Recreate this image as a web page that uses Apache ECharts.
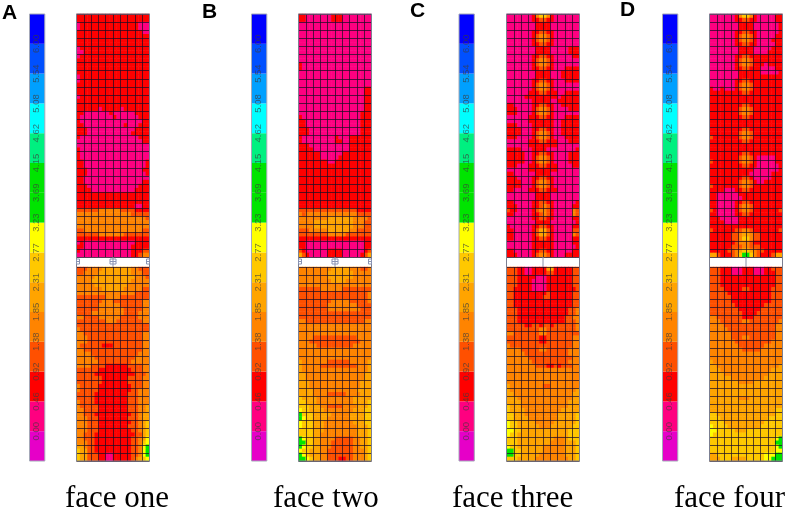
<!DOCTYPE html>
<html>
<head>
<meta charset="utf-8">
<title>face contours</title>
<style>
html, body { margin: 0; padding: 0; background: #fff; }
#chart { width: 789px; height: 509px; }
</style>
</head>
<body>
<div id="chart"></div>
<script src="https://cdn.jsdelivr.net/npm/echarts@6/dist/echarts.min.js"></script>
<script>
// colour bands, bottom to top of the scale
const bandColors = ['#e600c8', '#ff0080', '#ff0000', '#ff5000', '#ff8400', '#ffa400', '#ffc800', '#ffff00',
    '#00e400', '#00e400', '#00f080', '#00ffff', '#00a0ff', '#0050ff', '#0000ff'];
const tickLabels = ['0.00', '0.46', '0.92', '1.38', '1.85', '2.31', '2.77', '3.23', '3.69', '4.15', '4.62', '5.08', '5.54', '6.00'];
const faceNames = ['face one', 'face two', 'face three', 'face four'];
const panelLetters = ['A', 'B', 'C', 'D'];

// band index, half a mesh cell per character
const faceOneUpper = [
'22222222222222222222','22222222222222222222','12222222222222222111','12222222222222222111','22222222222222222211',
'22222222222222222222','22222222222222222222','22222222222222222222','12222222222222222222','11222222222222222222',
'12222222222222222222','22222222222222222222','22222222222222222222','22222222222222222222','22222222222222222222',
'12222222222222222222','12222222222222222222','22222222222222222222','22222222222222222222','22222222222222222222',
'12222222222222222222','22222222222222222222','22222222222222222222','22222212222212222222','22111111121111112222',
'21111111112111111222','21111111111111111122','22111111111112111222','22211111111111112222','22211111111111122222',
'21111111111111111222','11111111111111111122','11111111111111111111','21111111111111111111','21111111111111111111',
'21111111111111111111','22111111111111111112','22111111111111111112','22211111111111111122','22211111111111111112',
'22111111111111111111','22111111111111111122','22211111111111111222','22221111111111112222','22222222222222222222',
'22222222222222222222','22222222222222222222','22222222222222221122','33333344444433332222','44444444444444433333',
'44444444444444444443','44444444444444444444','44444444444444444444','33444444444444444433','33333344444443333333',
'22222222222222222222','12111111111111112222','22111111111111122222','21111111111111122233','11111111111111122344'];
const faceOneLower = [
'33344445555555544333','33444455555555544433','44444555555555554443','44445555555555544444','44444555555555444444',
'44444445555554444433','44444444444444443333','33333333444433333333','33333334443333333344','33333344444433333344',
'33333344444443333344','33334444444443333444','44333344444433333444','33333333444333333344','33333333333333333333',
'43333333333333333333','44333333333333333344','44433333333333333344','44433333333333333344','43333332223333333344',
'44333333333333333344','44443333333333333444','44444333333333334444','44444433333333344444','44443333222222333344',
'33333322222222233344','33333222222222223334','33333332222222333344','33333332222222333344','43333322222222233344',
'43333322222222233444','33333222222222333444','33333222222222333444','43333222222222333444','43333322222222333445',
'44333322222222333445','44333222222222233455','44433322222222333455','44433322222222233456','44433322222222333456',
'44433322222222233456','44333222222222223356','44333222222222233457','44433222222222233467','55433222222222233478',
'65533222222222233478','65533322112222233478','65533322112222234567'];
const faceTwoUpper = [
'22111111122211111111','22111111122211111111','11111111111111111111','11111111111111111111','11111111111111111111',
'11111111111111111111','11111111111111111111','11111111111111111111','11111111111111111111','11111111111111111111',
'11111111111111111111','11111111111111111111','21111111111111111111','21111111111111111111','11111111111111111111',
'11111111111111111111','11111111111111111111','11111111111111111111','11111111111111111122','11111111111111111122',
'11111111111111111122','11111111111111111122','11111111111111111122','11111111111111111122','11111111111111111222',
'21111111111111111222','22111111111111111222','22111111111111111222','22211111111111111222','22211111111111111222',
'21111111112111222222','21111111112211222222','22211111111111222222','22221111111111222222','22222211111122222222',
'22222211111222222222','22222222112222222222','22222222222222222222','22222222222222222222','22222222222222222222',
'22222222222222222222','22222222222222222222','22222222222222222222','22222222222222222222','22222222222222222222',
'22222222222222222222','22222222222222222222','22222222222222222222','33333333333333332222','43444444444444443333',
'44444444555555544443','44445555555555544433','44445555555555544433','33344444555555443333','33333333444443333333',
'22222222222222222222','22111111111111111122','22111111111111111122','32111111222211111123','53211111222211111235'];
const faceTwoLower = [
'44444444455555444334','44444444555555544444','44444444555555544444','44444444455554444444','44444444444444444444',
'33333344444433333333','33333333333333333334','33333333333333333334','33333333344444333334','33333333444444443333',
'33333333444444444333','33333333333333333333','33333333333333333333','44333333333333333344','44444444444444444444',
'44444444444444444444','44444444444444444444','44443333333333334444','44433333333333333444','44444333333333344444',
'44444444444444444444','44444444444444444444','44444444444444444444','54444444333333444445','54444433333333334445',
'54444444444444444445','55444444444444444455','55444444444444444455','55544444444444444555','55544444444444444555',
'55554444444444445555','55554444333334444555','65555444444444455555','66555444444444455556','66655544333344445556',
'76655554444444455566','86665555544444555566','87665555444444555566','76665554444444455566','76665554444444445556',
'66665554444444445556','66665544444444445556','87665544443333344556','88665544433333344556','87665544433333344556',
'76655544333333344456','87655544333333344456','88765544333223344456'];
const faceThreeUpper = [
'11111112466421111111','11111112233221111111','11111111222211111111','11111111222211111111','11111112233221111111',
'11111112344321111111','11111112344321111111','11111112233221111111','11111111222211111222','11111111222211111222',
'11111112233221111122','11111112344321111111','11111112344321111111','11111112233221112222','11111111222211122222',
'11111111222211122222','11111112233221112222','11111112344321111111','11111112344321111111','11111122233222112222',
'11111222222222122222','11111112222211222222','22111112233221122222','22211112344321111222','22211112344321111111',
'11111122233221112222','11111122222221122222','22211112222221122222','22221112233221122222','22221112344321122222',
'22211112344321112222','11111122233222111222','11111122222222111111','22221112222111111112','22222112233221111222',
'22222112344321111222','22222112344321111222','22211122233222111122','11111122222222111111','22111111222211111111',
'22211112233221111111','22221112344321111111','22221112344321111111','22111122233222111111','11111111222211111111',
'11111111222211111111','22111112233221111112','22211112234321111122','32211112344321111143','22111112234321111143',
'11111112233221111122','11111111222211111112','21111112233221111122','22111112355321111133','22111112355321111143',
'22111112233221111122','11111112222221111122','11111112222221111112','22111112233221111122','22211112344321112222'];
const faceThreeLower = [
'33322112222552222233','33322112222332222233','33322222111222222233','33322221111222222233','33322221111222222233',
'33222221111222222223','33222222222322222233','33222222223322222233','33222222222222222233','33222222222222222233',
'33322222222222222334','33322222222222222334','33322222222222223344','33322222222222223334','33333223323323333334',
'33333333344333333334','44333333344333333333','33333333322333333344','33333333322333333344','43333333333333333344',
'44443333344333333444','44444333333333333444','44444433333333333344','44444443333333333444','44444444333223233344',
'44444444444444444444','44444444444444444444','44444444444444444444','44444444444444444444','54444444443344444444',
'54444444444444444445','55444444444444444455','55544444444444444455','55554444444444444555','65554444444444444555',
'65555444444444455555','66555444444444555556','66555544444444555556','76655555444445555556','76655555544455555566',
'77665555555555555666','76655555555555555666','66655555555554445666','66655555555544445556','76655555554444445556',
'88665555554444445556','88665555544444445556','66655555444444444556'];
const faceFourUpper = [
'11111112466421111122','11111112233221111122','11111111222211111112','11111111222211111112','11111112233221111112',
'11111112344321111122','11111112344321111222','11111112233221111122','11111111222211111222','11111111222211112222',
'11111112233222222222','11111112344322222222','11111112344322212222','11111112233222111122','11111111222222111112',
'11111111222222222222','11111112233222222222','11111112344322222222','21121112344322222222','22222222233222222222',
'22222222222222222222','22222222222222222222','22222222233222222222','22222222344322222222','22222222344322222222',
'22222222233222222222','22222222222222222222','22222222222222222222','22222222233222222222','22222222344322222222',
'32222222344322222222','22222222233222222222','22222222222222222222','22222222222222222222','22222222233222222222',
'22222222344321111122','32222222344321111122','22222222233221111112','22222222222211111112','22222222222111111222',
'22222222233211111222','22222222344321122222','32222222344322222222','22221112233222222222','22111111222222222222',
'22111111122222222222','22111112233222222222','22111112344322222222','32111112344322222223','22111112233222222222',
'22211111222222222222','22221111222222222222','22222222222222222222','32222223344322222223','22222233455433222222',
'22222233466433222222','22222223444322222222','22222233344333222222','22222334566543322222','55322234688643222355'];
const faceFourLower = [
'33322211122211122333','33322211122211122233','33322222222222222233','33322222222222222233','33322222222222222233',
'33332222233222222333','33333222222222222333','33333322222222222333','33333322222222222333','33333332222222233333',
'33333333222222333333','33333333322223333333','44333333322233333333','44433333344333333334','44443333333333333344',
'44444333333333333344','44444433333333333344','44444433344333333344','44444443333333333444','44444444333333344444',
'44444444433333444444','44444444444444444444','44444444444444444444','54444444444444444444','55444444444444444445',
'55544444444444444555','55554444444444445555','55555544444444455555','55555555444455555555','55555555555555555555',
'55555555555555555555','55555555555555555555','55555555444555555555','55555555555555555555','55555555555555555555',
'55555555555555555566','66555555555555555566','66655555555555556666','66665555555555566666','76666555555555666666',
'77666665556666666666','76666666666666666666','66666666666666666678','66666666666666666688','66666666666666666678',
'66666666666666666677','55666666666666677788','55566655556666677888'];

const faceRows = [[faceOneUpper, faceOneLower], [faceTwoUpper, faceTwoLower], [faceThreeUpper, faceThreeLower], [faceFourUpper, faceFourLower]];

// page layout
const scaleLeft = [29.5, 251.5, 459, 662.5];
const meshLeft = [76.5, 298.5, 506.5, 709.5];
const letterPos = [[2, 3], [202, 2], [410, 1], [620, 0]];
const captionLeft = [65, 273, 452, 674];
const meshWidth = 73, scaleWidth = 15.3;
const top1 = 14, height1 = 243, top2 = 267, height2 = 194;

const grids = [], xAxes = [], yAxes = [], series = [], titles = [], heatSeries = [], frames = [];

function addCartesian(box) {
    grids.push(Object.assign({ show: false }, box));
    return grids.length - 1;
}

function addMesh(rows, left, top, height) {
    const g = addCartesian({ left: left, top: top, width: meshWidth, height: height });
    const cols = rows[0].length;
    const data = [];
    rows.forEach((row, r) => {
        for (let c = 0; c < cols; c++) data.push([c, r, Number(row[c])]);
    });
    // category axes carry the contour cells
    xAxes.push({ gridIndex: g, type: 'category', show: false, data: Array.from({ length: cols }, (_, i) => i) });
    const xCat = xAxes.length - 1;
    yAxes.push({ gridIndex: g, type: 'category', show: false, inverse: true, data: rows.map((_, i) => i) });
    const yCat = yAxes.length - 1;
    series.push({ type: 'heatmap', xAxisIndex: xCat, yAxisIndex: yCat, data: data, silent: true, progressive: 0, z: 2 });
    heatSeries.push(series.length - 1);
    // value axes on top of the cells draw the mesh lines
    const meshLine = { show: true, lineStyle: { color: '#1c0c24', width: 1, opacity: 0.72 } };
    xAxes.push({ gridIndex: g, type: 'value', position: 'top', min: 0, max: cols / 2, interval: 1, z: 5,
        axisLine: { show: false }, axisTick: { show: false }, axisLabel: { show: false }, splitLine: meshLine });
    yAxes.push({ gridIndex: g, type: 'value', position: 'right', min: 0, max: rows.length / 2, interval: 1, z: 5,
        axisLine: { show: false }, axisTick: { show: false }, axisLabel: { show: false }, splitLine: meshLine });
}

function addScale(left) {
    const g = addCartesian({ left: left, top: top1, width: scaleWidth, height: top2 + height2 - top1 });
    xAxes.push({ gridIndex: g, type: 'category', show: false, data: ['scale'] });
    yAxes.push({
        gridIndex: g, type: 'value', min: 0, max: bandColors.length, interval: 1, z: 5,
        axisLine: { show: false }, axisTick: { show: false }, splitLine: { show: false },
        axisLabel: {
            inside: true, rotate: 90, margin: 2, fontSize: 9.5, color: 'rgba(60,60,60,0.7)', fontFamily: 'Liberation Sans',
            showMinLabel: false, showMaxLabel: false,
            formatter: v => tickLabels[v - 1] || ''
        }
    });
    const xi = xAxes.length - 1, yi = yAxes.length - 1;
    bandColors.forEach((color, i) => {
        series.push({ type: 'bar', xAxisIndex: xi, yAxisIndex: yi, stack: 'scale' + g, barWidth: '100%', silent: true,
            data: [1], itemStyle: { color: color } });
    });
}

faceNames.forEach((name, i) => {
    addScale(scaleLeft[i]);
    addMesh(faceRows[i][0], meshLeft[i], top1, height1);
    addMesh(faceRows[i][1], meshLeft[i], top2, height2);
    titles.push({ text: panelLetters[i], left: letterPos[i][0], top: letterPos[i][1], padding: 0,
        textStyle: { fontFamily: 'Liberation Sans', fontWeight: 'bold', fontSize: 21, color: '#000' } });
    titles.push({ text: name, left: captionLeft[i], top: 483, padding: 0,
        textStyle: { fontFamily: 'Liberation Serif', fontWeight: 'normal', fontSize: 31, color: '#000' } });

    // thin frames and the small fixtures in the white gap
    const frame = { stroke: '#a4a8b8', fill: 'none', lineWidth: 1 };
    frames.push({ type: 'rect', z: 20, shape: { x: scaleLeft[i], y: top1, width: scaleWidth, height: top2 + height2 - top1 }, style: frame });
    frames.push({ type: 'rect', z: 20, shape: { x: meshLeft[i], y: top1, width: meshWidth, height: top2 + height2 - top1 }, style: { stroke: '#7c8092', fill: 'none', lineWidth: 1 } });
    frames.push({ type: 'line', z: 20, shape: { x1: meshLeft[i] + meshWidth / 2, y1: top1 + height1, x2: meshLeft[i] + meshWidth / 2, y2: top2 }, style: { stroke: '#8a90a8', lineWidth: 1 } });
    if (i < 2) {
        [0, meshWidth / 2, meshWidth].forEach(dx => {
            const w = dx === meshWidth / 2 ? 6 : 3;
            const x = dx === 0 ? meshLeft[i] : dx === meshWidth ? meshLeft[i] + meshWidth - 3 : meshLeft[i] + dx - 3;
            frames.push({ type: 'rect', z: 20, shape: { x: x, y: top1 + height1 + 2, width: w, height: 5 }, style: { stroke: '#8a94b4', fill: 'none', lineWidth: 1 } });
            frames.push({ type: 'line', z: 20, shape: { x1: x, y1: top1 + height1 + 4.5, x2: x + w, y2: top1 + height1 + 4.5 }, style: { stroke: '#8a94b4', lineWidth: 1 } });
        });
    }
});

const myChart = echarts.init(document.getElementById('chart'));
myChart.setOption({
    backgroundColor: '#fff',
    animation: false,
    title: titles,
    grid: grids,
    xAxis: xAxes,
    yAxis: yAxes,
    visualMap: {
        type: 'piecewise', show: false, dimension: 2, seriesIndex: heatSeries,
        pieces: bandColors.map((color, i) => ({ value: i, color: color }))
    },
    series: series,
    graphic: frames
});
</script>
</body>
</html>
